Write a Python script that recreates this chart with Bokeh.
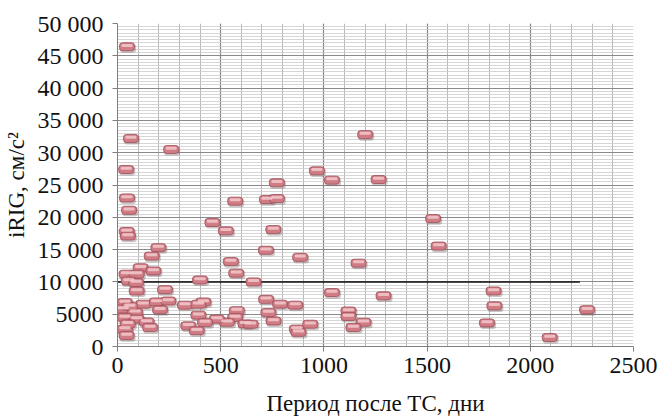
from bokeh.plotting import figure
from bokeh.models import Range1d, FixedTicker, ColumnDataSource
from bokeh.transform import dodge
from bokeh.embed import file_html
from bokeh.resources import INLINE

# ---- data ----
days = [46, 65, 260, 42, 46, 56, 45, 50, 966, 1039, 772, 570, 724, 772, 1200, 1265,
        1529, 1556, 1168, 1289, 1119, 1119, 1192, 1143, 1039, 1822, 1826, 1790, 2094, 2275,
        460, 525, 755, 719, 885, 549, 575, 659, 400, 720, 788, 861, 578, 731, 570, 756,
        530, 620, 645, 869, 877, 934, 481,
        198, 166, 112, 174, 44, 93, 55, 90, 93, 230, 36, 125, 190, 246, 327, 416, 392,
        206, 28, 85, 36, 93, 141, 158, 36, 44, 392, 343, 384, 424, 60, 50]
irig = [46400, 32200, 30500, 27400, 23000, 21100, 17800, 17100, 27200, 25750, 25350, 22500,
        22750, 22900, 32800, 25850, 19800, 15550, 12900, 7850, 5500, 4650, 3750, 2950, 8350,
        8600, 6300, 3650, 1400, 5700,
        19200, 17900, 18100, 14900, 13800, 13150, 11350, 10000, 10300, 7300, 6550, 6400, 5550,
        5250, 4500, 3950, 3750, 3500, 3450, 2700, 2200, 3450, 4250,
        15300, 14000, 12200, 11700, 11200, 11200, 10150, 9900, 8600, 8800, 6800, 6550, 6900,
        7050, 6400, 6900, 6550, 5700, 5800, 5300, 4500, 4250, 3800, 2950, 2700, 1700, 4850,
        3200, 2450, 3700, 6200, 3500]

threshold_x = [0, 2240]
threshold_y = [10000, 10000]

x_ticks = [0, 500, 1000, 1500, 2000, 2500]
x_minor = list(range(0, 2501, 100))
y_ticks = [0, 5000, 10000, 15000, 20000, 25000, 30000, 35000, 40000, 45000, 50000]
y_tick_labels = ["0", "5000", "10 000", "15 000", "20 000", "25 000", "30 000",
                 "35 000", "40 000", "45 000", "50 000"]
y_minor = list(range(0, 50001, 500))

x_title = "Период после ТС, дни"
y_title = "iRIG, см/с²"

FONT = "Liberation Serif"

p = figure(width=657, height=418, output_backend="svg", toolbar_location=None,
           x_range=Range1d(0, 2500), y_range=Range1d(0, 50000),
           min_border_left=117, min_border_right=24, min_border_top=23, min_border_bottom=70)
p.outline_line_color = None
p.background_fill_color = "white"
p.border_fill_color = "white"

p.xaxis.ticker = FixedTicker(ticks=x_ticks, minor_ticks=x_minor)
p.yaxis.ticker = FixedTicker(ticks=y_ticks, minor_ticks=y_minor)
p.yaxis.major_label_overrides = {t: l for t, l in zip(y_ticks, y_tick_labels)}
p.xaxis.major_label_overrides = {t: str(t) for t in x_ticks}

for ax in (p.xaxis, p.yaxis):
    ax.axis_line_color = "#7f7f7f"
    ax.axis_line_width = 1
    ax.major_tick_line_color = "#7f7f7f"
    ax.major_tick_out = 5
    ax.major_tick_in = 0
    ax.minor_tick_line_color = None
    ax.major_label_text_font = FONT
    ax.major_label_text_font_size = "24px"
    ax.major_label_text_color = "#111111"
    ax.axis_label_text_font = FONT
    ax.axis_label_text_font_size = "23px"
    ax.axis_label_text_font_style = "normal"
    ax.axis_label_text_color = "#111111"

p.xaxis.axis_label = x_title
p.yaxis.axis_label = y_title
p.xaxis.major_label_standoff = 6
p.yaxis.major_label_standoff = 9
p.xaxis.axis_label_standoff = 15
p.yaxis.axis_label_standoff = 6

p.xgrid.grid_line_color = "#858585"
p.xgrid.grid_line_width = 1.2
p.xgrid.minor_grid_line_color = "#b8b8b8"
p.xgrid.minor_grid_line_width = 1
p.ygrid.grid_line_color = "#8a8a8a"
p.ygrid.grid_line_width = 1.2
p.ygrid.minor_grid_line_color = "#cccccc"
p.ygrid.minor_grid_line_width = 0.8

p.line(threshold_x, threshold_y, line_color="#111111", line_width=1.5)

src = ColumnDataSource(data=dict(x=days, y=irig))
# shadow
p.rect(x=dodge("x", 5, range=p.x_range), y=dodge("y", -250, range=p.y_range), source=src,
       width=16, height=9, width_units="screen", height_units="screen",
       fill_color="#6e5a5c", fill_alpha=0.35, line_color=None, border_radius=3)
# body
p.rect(x="x", y="y", source=src, width=15, height=8, width_units="screen", height_units="screen",
       fill_color="#cf7c85", line_color="#a04e58", line_width=0.8, border_radius=3)
# highlight
p.rect(x="x", y=dodge("y", 200, range=p.y_range), source=src, width=11, height=3,
       width_units="screen", height_units="screen",
       fill_color="#f3c9cc", fill_alpha=0.85, line_color=None, border_radius=1)

open("out.html", "w").write(file_html(p, INLINE))
